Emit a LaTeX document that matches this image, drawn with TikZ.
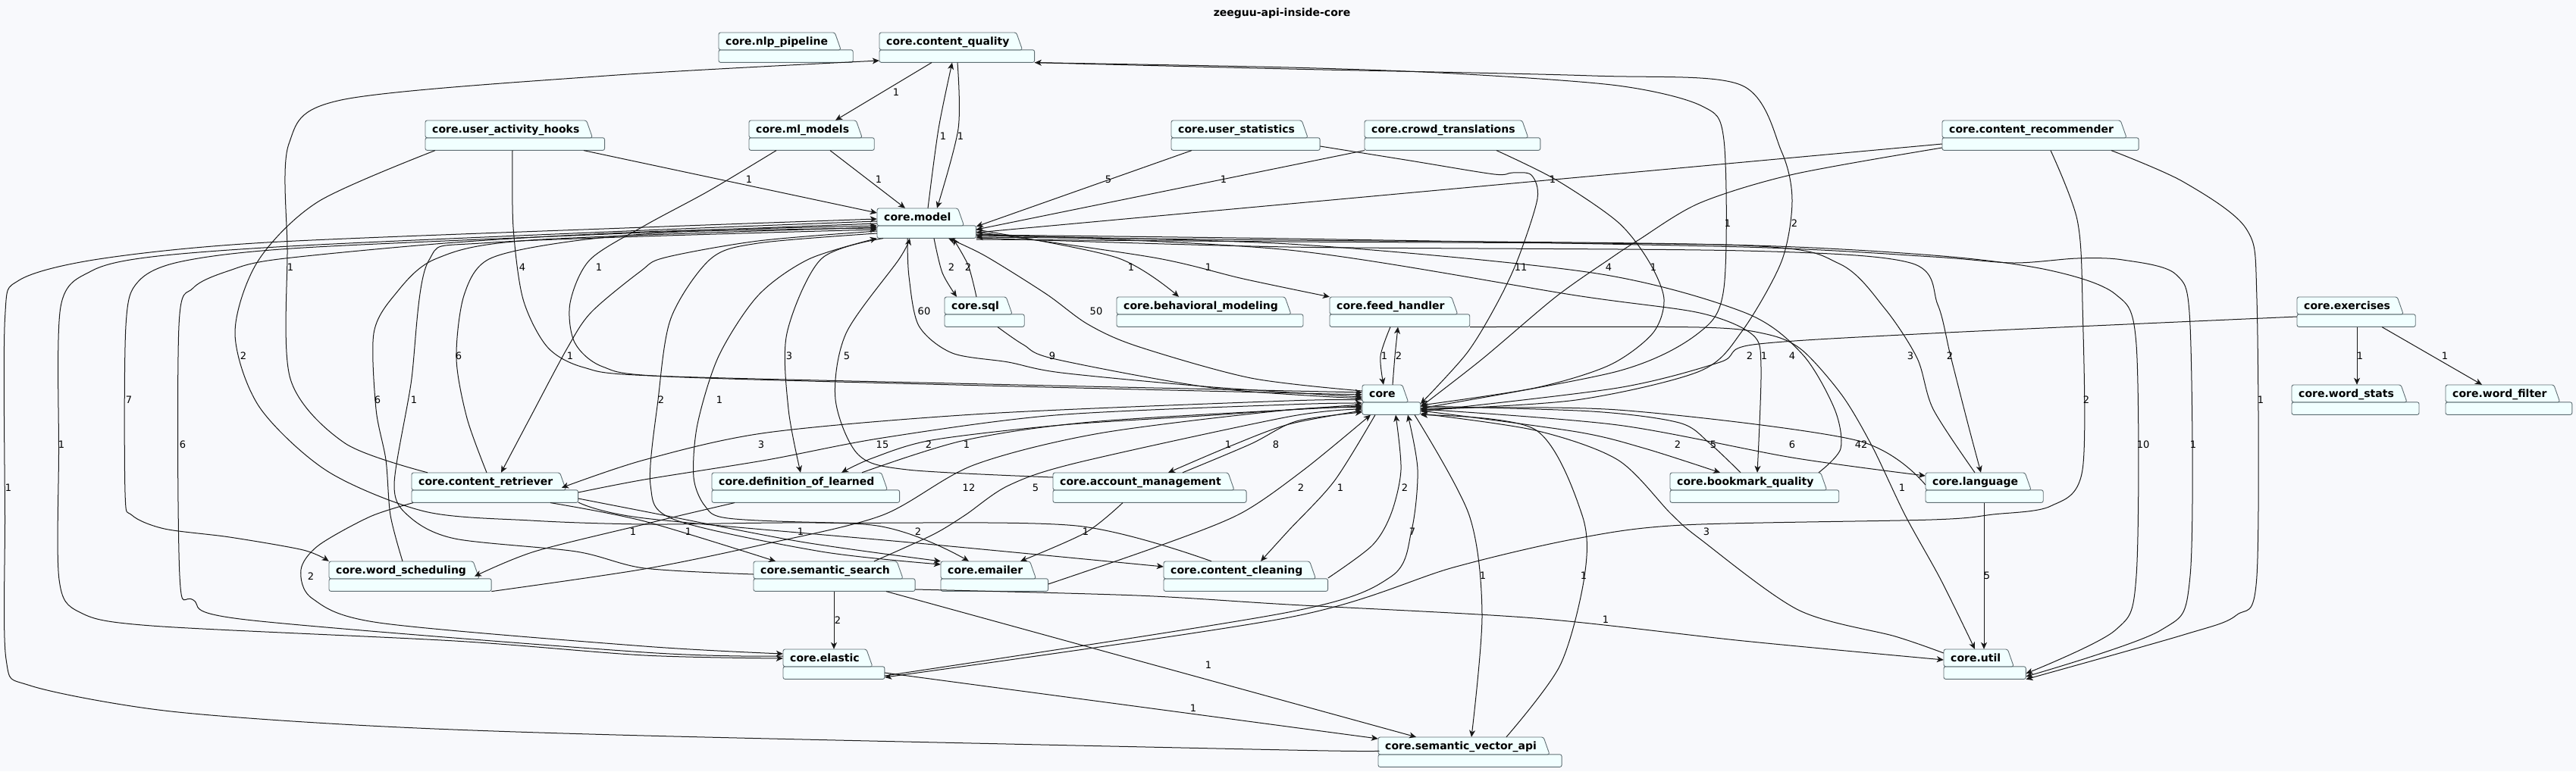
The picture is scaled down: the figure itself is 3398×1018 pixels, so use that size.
\documentclass[tikz,border=0pt]{standalone}
\usepackage{fontspec}
\setmainfont{DejaVu Sans}
\usetikzlibrary{arrows.meta,calc,fit}
\definecolor{pagebg}{HTML}{F8F9FC}
\definecolor{pkgfill}{HTML}{F1FFFF}
\definecolor{pkgedge}{HTML}{5F6E73}
\definecolor{depline}{HTML}{181818}
\pgfdeclarelayer{pkgbg}
\pgfsetlayers{pkgbg,main}
\tikzset{
  pkgtab/.style={anchor=north west, inner xsep=9pt, inner ysep=0pt, minimum height=22.4pt,
    text height=15pt, text depth=4pt, font=\fontsize{14}{16}\selectfont\bfseries},
  pkgline/.style={draw=pkgedge, fill=pkgfill, line width=0.9pt, rounded corners=2.5pt},
  dep/.style={draw=depline, line width=1pt, -{Stealth[length=9pt,width=8pt,inset=2.5pt]}},
  cnt/.style={font=\fontsize{13}{15}\selectfont, inner sep=0pt},
}
% package: name, left, top, label
\newcommand{\pkg}[4]{%
  \node[pkgtab] (#1-tab) at (#2,#3) {#4};
  \coordinate (#1-end) at ($(#1-tab.south east)+(24,16.6)$);
  \begin{pgfonlayer}{pkgbg}
    \filldraw[pkgline] (#1-tab.south west) rectangle (#1-end);
    \filldraw[pkgline] (#1-tab.south west) -- (#1-tab.north west) -- (#1-tab.north east)
      -- ($(#1-tab.south east)+(8,0)$) -- cycle;
  \end{pgfonlayer}
  \node[fit=(#1-tab)(#1-end), inner sep=0pt] (#1) {};
}
\begin{document}
\begin{tikzpicture}[x=1pt,y=-1pt]
\useasboundingbox (0,0) rectangle (3398,1018);
\begin{pgfonlayer}{pkgbg}
  \fill[pagebg] (0,0) rectangle (3398,1018);
\end{pgfonlayer}
\node[font=\fontsize{14}{16}\selectfont\bfseries] (title) at (1691,18) {zeeguu-api-inside-core};

\pkg{nlp}{948}{43}{core.nlp\_pipeline}
\pkg{cq}{1160}{43}{core.content\_quality}
\pkg{hooks}{561}{159}{core.user\_activity\_hooks}
\pkg{ml}{988}{159}{core.ml\_models}
\pkg{ustats}{1545}{159}{core.user\_statistics}
\pkg{crowd}{1800}{159}{core.crowd\_translations}
\pkg{recom}{2562}{159}{core.content\_recommender}
\pkg{model}{1157}{275}{core.model}
\pkg{sql}{1246}{392}{core.sql}
\pkg{behav}{1473}{392}{core.behavioral\_modeling}
\pkg{feed}{1754}{392}{core.feed\_handler}
\pkg{exer}{3030}{392}{core.exercises}
\pkg{core}{1797}{508}{core}
\pkg{wstats}{3023}{508}{core.word\_stats}
\pkg{wfilter}{3226}{508}{core.word\_filter}
\pkg{retr}{543}{624}{core.content\_retriever}
\pkg{defl}{939}{624}{core.definition\_of\_learned}
\pkg{acct}{1389}{624}{core.account\_management}
\pkg{bmq}{2203}{624}{core.bookmark\_quality}
\pkg{lang}{2540}{624}{core.language}
\pkg{wsched}{434}{741}{core.word\_scheduling}
\pkg{ssearch}{994}{741}{core.semantic\_search}
\pkg{emailer}{1241}{741}{core.emailer}
\pkg{cclean}{1535}{741}{core.content\_cleaning}
\pkg{elastic}{1033}{857}{core.elastic}
\pkg{util}{2564}{857}{core.util}
\pkg{svapi}{1818}{973}{core.semantic\_vector\_api}

% upper part
\draw[dep] plot[smooth] coordinates {(564,0 |- retr.north) (455,585) (383,500) (379,330) (381,190) (450,132) (800,100) (cq.west |- 0,80)};
\draw[dep] (1229,0 |- cq.south) -- (1102,0 |- ml.north);
\draw[dep] plot[smooth] coordinates {(1224,0 |- model.north) (1238,170) (1256,0 |- cq.south)};
\draw[dep] plot[smooth] coordinates {(1263,0 |- cq.south) (1264,170) (1236,0 |- model.north)};
\draw[dep] (770,0 |- hooks.south) -- (model.west |- 0,281);
\draw[dep] (1095,0 |- ml.south) -- (1194,0 |- model.north);
\draw[dep] (1572,0 |- ustats.south) -- (model.east |- 0,299);
\draw[dep] (crowd.south west) -- (model.east |- 0,303);
\draw[dep] (recom.west |- 0,190) -- (model.east |- 0,307);
\draw[dep] plot[smooth] coordinates {(1024,0 |- ml.south) (935,252) (850,298) (778,343) (752,400) (758,452) (795,484) (880,497) (1300,509) (core.west |- 0,521)};
\draw[dep] plot[smooth] coordinates {(676,0 |- hooks.south) (677,300) (690,395) (722,458) (770,485) (860,496) (1300,507) (core.west |- 0,518)};
\draw[dep] plot[smooth] coordinates {(574,0 |- hooks.south) (420,266) (340,345) (310,440) (342,537) (432,622) (560,675) (700,687) (850,692) (1150,693) (1278,0 |- emailer.north)};
\draw[dep] plot[smooth] coordinates {(1232,0 |- model.south) (1243,360) (1262,0 |- sql.north)};
\draw[dep] plot[smooth] coordinates {(1288,0 |- sql.north) (1277,350) (1257,0 |- model.south)};
\draw[dep] plot[smooth] coordinates {(model.east |- 0,303) (1473,340) (1555,0 |- behav.north)};
\draw[dep] plot[smooth] coordinates {(model.east |- 0,306) (1522,340) (1640,368) (feed.north west)};
\draw[dep] plot[smooth] coordinates {(1197,0 |- model.south) (1199,365) (1212,430) (1256,466) (1330,478) (1400,492) (1600,511) (core.west |- 0,524)};
\draw[dep] plot[smooth] coordinates {(core.west |- 0,516) (1650,499) (1500,457) (1435,428) (1380,388) (1300,338) (1251,0 |- model.south)};
\draw[dep] plot[smooth] coordinates {(1316,0 |- sql.south) (1350,455) (1392,474) (1600,512) (core.west |- 0,526)};
\draw[dep] plot[smooth] coordinates {(1834,0 |- feed.south) (1821,470) (1825,0 |- core.north)};
\draw[dep] plot[smooth] coordinates {(1837,0 |- core.north) (1840,470) (1844,0 |- feed.south)};
\draw[dep] plot[smooth] coordinates {(ustats.east |- 0,193) (1860,212) (1971,230) (1995,228) (2020,231) (2028,262) (2003,340) (1975,400) (1935,466) (core.east |- 0,533)};
\draw[dep] plot[smooth] coordinates {(1974,0 |- crowd.south) (2052,237) (2134,293) (2175,345) (2195,395) (2180,440) (2123,482) (2025,512) (core.east |- 0,535)};
\draw[dep] plot[smooth] coordinates {(recom.west |- 0,195) (2366,230) (2242,268) (2161,317) (2123,342) (2052,392) (1955,474) (core.east |- 0,537)};
\draw[dep] plot[smooth] coordinates {(core.east |- 0,539) (2134,490) (2240,440) (2274,380) (2274,185) (2245,140) (2134,113) (1917,97) (1700,89) (cq.south east)};
\draw[dep] plot[smooth] coordinates {(cq.south east) (1700,91) (2100,100) (2296,112) (2350,200) (2364,265) (2350,345) (2298,437) (2242,490) (2079,528) (core.east |- 0,541)};
\draw[dep] plot[smooth] coordinates {(exer.west |- 0,418) (2548,440) (2312,455) (2269,478) (2134,512) (core.east |- 0,543)};

% right part
\draw[dep] plot[smooth] coordinates {(model.east |- 0,309) (1700,330) (2079,390) (2242,413) (2312,442) (2323,485) (2318,0 |- bmq.north)};
\draw[dep] plot[smooth] coordinates {(2399,0 |- bmq.north) (2428,592) (2420,540) (2377,467) (2300,412) (2100,360) (1700,322) (model.east |- 0,311)};
\draw[dep] plot[smooth] coordinates {(2605,0 |- lang.north) (2550,540) (2529,473) (2486,407) (2426,348) (2300,324) (1700,317) (model.east |- 0,313)};
\draw[dep] plot[smooth] coordinates {(model.east |- 0,314) (1700,326) (2300,331) (2520,347) (2556,402) (2573,470) (2596,560) (2613,0 |- lang.north)};
\draw[dep] plot[smooth] coordinates {(lang.west |- 0,640) (2448,581) (2134,541) (core.east |- 0,539)};
\draw[dep] plot[smooth] coordinates {(core.east |- 0,540) (2134,561) (2364,604) (lang.west |- 0,628)};
\draw[dep] plot[smooth] coordinates {(core.east |- 0,542) (2080,570) (2170,592) (2269,0 |- bmq.north)};
\draw[dep] plot[smooth] coordinates {(2296,0 |- bmq.north) (2255,585) (2215,558) (2100,543) (core.east |- 0,536)};
\draw[dep] (2617,0 |- lang.south) -- (2617,0 |- util.north);
\draw[dep] plot[smooth] coordinates {(model.east |- 0,316) (1700,319) (2274,323) (2550,337) (2700,356) (2790,388) (2818,455) (2818,760) (2790,832) (util.east |- 0,889)};
\draw[dep] plot[smooth] coordinates {(model.east |- 0,310) (1700,315) (2300,326) (2550,339) (2656,347) (2740,341) (2800,343) (2870,362) (2889,430) (2889,760) (2850,832) (util.east |- 0,893)};
\draw[dep] plot[smooth] coordinates {(2785,0 |- recom.south) (2880,240) (2963,302) (2977,395) (2977,760) (2950,812) (2880,838) (util.south east)};
\draw[dep] plot[smooth] coordinates {(2705,0 |- recom.south) (2740,290) (2747,400) (2747,620) (2705,668) (2629,679) (2548,686) (2220,693) (2079,711) (1917,749) (1700,815) (elastic.east |- 0,894)};
\draw[dep] plot[smooth] coordinates {(feed.south east) (2242,432) (2330,441) (2377,462) (2430,522) (2470,590) (2513,680) (2560,765) (2605,0 |- util.north)};
\draw[dep] (3109,0 |- exer.south) -- (3109,0 |- wstats.north);
\draw[dep] (3142,0 |- exer.south) -- (3274,0 |- wfilter.north);

% lower part
\draw[dep] plot[smooth] coordinates {(ssearch.east |- 0,778) (1500,786) (1700,798) (2025,816) (2300,846) (util.west |- 0,871)};
\draw[dep] (1169,0 |- ssearch.south) -- (1868,0 |- svapi.north);
\draw[dep] (1100,0 |- ssearch.south) -- (1100,0 |- elastic.north);
\draw[dep] (elastic.east |- 0,888) -- (svapi.west |- 0,975);
\draw[dep] plot[smooth] coordinates {(svapi.west |- 0,991) (1700,990) (850,971) (488,958) (217,938) (40,905) (8,870) (6.5,680) (6.5,420) (25,370) (130,342) (352,320) (850,300) (model.west |- 0,289)};
\draw[dep] plot[smooth] coordinates {(model.west |- 0,292) (850,304) (400,324) (200,339) (120,358) (80,405) (77.5,600) (78,765) (105,808) (200,826) (600,846) (850,865) (elastic.west |- 0,869)};
\draw[dep] plot[smooth] coordinates {(model.west |- 0,295) (850,307) (400,327) (240,345) (182,372) (166,430) (165,650) (174,680) (217,698) (303,709) (400,726) (wsched.north west)};
\draw[dep] plot[smooth] coordinates {(elastic.west |- 0,866) (850,861) (325,818) (255,792) (237,760) (236,430) (255,380) (303,357) (368,342) (600,320) (850,306) (model.west |- 0,298)};
\draw[dep] plot[smooth] coordinates {(545,0 |- retr.south) (488,682) (420,720) (397,752) (412,790) (500,822) (850,853) (elastic.west |- 0,863)};
\draw[dep] plot[smooth] coordinates {(model.west |- 0,305) (1000,318) (877,340) (845,358) (780,412) (748,460) (700,550) (661,0 |- retr.north)};
\draw[dep] plot[smooth] coordinates {(642,0 |- retr.north) (616,552) (602,473) (612,390) (645,342) (750,319) (900,306) (model.west |- 0,301)};
\draw[dep] plot[smooth] coordinates {(531,0 |- wsched.north) (515,680) (509,607) (496,540) (493,440) (520,390) (574,342) (700,317) (model.west |- 0,300)};
\draw[dep] plot[smooth] coordinates {(ssearch.west |- 0,758) (850,750) (760,728) (600,711) (540,682) (520,640) (542,507) (565,345) (650,320) (model.west |- 0,303)};
\draw[dep] plot[smooth] coordinates {(model.west |- 0,308) (1000,321) (937,342) (885,420) (868,528) (858,640) (890,686) (1083,728) (emailer.west |- 0,745)};
\draw[dep] plot[smooth] coordinates {(1598,0 |- cclean.north) (1420,694) (1100,690) (960,684) (930,668) (915,630) (920,560) (948,470) (1000,390) (1067,342) (model.south west)};
\draw[dep] plot[smooth] coordinates {(1165,0 |- model.south) (1083,342) (1038,440) (1040,540) (1056,0 |- defl.north)};
\draw[dep] plot[smooth] coordinates {(acct.west |- 0,630) (1197,620) (1132,600) (1102,527) (1116,440) (1186,342) (1200,0 |- model.south)};
\draw[dep] plot[smooth] coordinates {(core.west |- 0,534) (1600,548) (1400,561) (1229,581) (1150,605) (1110,0 |- defl.north)};
\draw[dep] plot[smooth] coordinates {(1137,0 |- defl.north) (1273,581) (1450,556) (core.west |- 0,536)};
\draw[dep] plot[smooth] coordinates {(core.west |- 0,528) (1700,529) (1300,546) (1012,571) (850,607) (741,0 |- retr.west)};
\draw[dep] plot[smooth] coordinates {(retr.east |- 0,650) (850,633) (1012,607) (1164,578) (1392,548) (1700,534) (core.west |- 0,532)};
\draw[dep] plot[smooth] coordinates {(wsched.south east) (850,751) (1010,718) (1164,680) (1284,614) (1450,572) (1700,541) (core.west |- 0,538)};
\draw[dep] plot[smooth] coordinates {(1153,0 |- ssearch.north) (1230,706) (1273,680) (1330,641) (1420,611) (1700,550) (core.west |- 0,540)};
\draw[dep] plot[smooth] coordinates {(core.west |- 0,542) (1700,560) (1620,590) (1541,0 |- acct.north)};
\draw[dep] plot[smooth] coordinates {(1560,0 |- acct.north) (1650,586) (1710,556) (core.west |- 0,544)};
\draw[dep] plot[smooth] coordinates {(emailer.east |- 0,771) (1528,721) (1636,678) (1720,620) (1808,0 |- core.south)};
\draw[dep] plot[smooth] coordinates {(1814,0 |- core.south) (1760,635) (1700,700) (1663,0 |- cclean.north)};
\draw[dep] plot[smooth] coordinates {(cclean.east |- 0,763) (1810,720) (1835,678) (1848,620) (1841,0 |- core.south)};
\draw[dep] plot[smooth] coordinates {(elastic.east |- 0,892) (1700,808) (1835,761) (1862,700) (1870,620) (1857,0 |- core.south)};
\draw[dep] plot[smooth] coordinates {(1866,0 |- core.south) (1938,680) (1955,811) (1941,0 |- svapi.north)};
\draw[dep] plot[smooth] coordinates {(1987,0 |- svapi.north) (2058,878) (2090,761) (2087,680) (2025,567) (core.south east)};
\draw[dep] plot[smooth] coordinates {(util.west |- 0,862) (2500,840) (2372,805) (2242,711) (2204,678) (2134,607) (2025,568) (core.east |- 0,546)};
\draw[dep] plot[smooth] coordinates {(1481,0 |- acct.south) (1432,703) (1346,0 |- emailer.north)};
\draw[dep] plot[smooth] coordinates {(726,0 |- retr.south) (850,688) (1023,0 |- ssearch.north)};
\draw[dep] plot[smooth] coordinates {(retr.east |- 0,658) (850,675) (1056,715) (emailer.north west)};
\draw[dep] plot[smooth] coordinates {(retr.east |- 0,663) (850,684) (1211,717) (cclean.west |- 0,748)};
\draw[dep] plot[smooth] coordinates {(969,0 |- defl.south) (899,680) (850,692) (705,728) (626,0 |- wsched.west)};

\foreach \x/\y/\t [count=\i] in {
  1182/122/1, 1244/180/1, 1267/180/1, 988/237/1, 1159/237/1, 1462/237/5, 1614/237/1, 2048/237/1,
  2279/295/1, 2367/295/2, 383/353/1, 689/353/4, 790/353/1, 1255/353/2, 1277/353/2, 1492/353/1,
  1594/353/1, 2006/353/11, 2122/353/4, 2181/353/1, 321/470/2, 605/470/6, 752/470/1, 1041/470/3,
  1117/470/5, 1219/411/60, 1446/411/50, 1388/470/9, 1826/470/1, 1845/470/2, 2308/470/2, 2327/470/1,
  2364/470/4, 2520/470/3, 2572/470/2, 3113/470/1, 3225/470/1, 170/528/7, 498/528/6, 546/528/1,
  872/528/2, 949/528/1, 2752/528/2, 2982/528/1, 81/587/1, 241/587/6, 1004/587/3, 1164/587/15,
  1225/587/2, 1275/587/1, 1620/587/1, 1683/587/8, 2213/587/2, 2260/587/5, 2364/587/6, 2455/587/42,
  2827/587/10, 2893/587/1, 11/644/1, 1278/644/12, 1366/644/5, 1716/644/2, 1768/644/1, 1853/644/2,
  2509/644/1, 908/702/1, 1056/702/1, 1211/702/2, 1432/702/1, 835/702/1, 410/761/2, 1863/702/7,
  2251/702/3, 1956/760/1, 2089/760/1, 2621/760/5, 2118/818/1, 1105/819/2, 1594/878/1, 1574/935/1}
  \node[cnt] (lab\i) at (\x,\y) {\t};
\end{tikzpicture}
\end{document}
